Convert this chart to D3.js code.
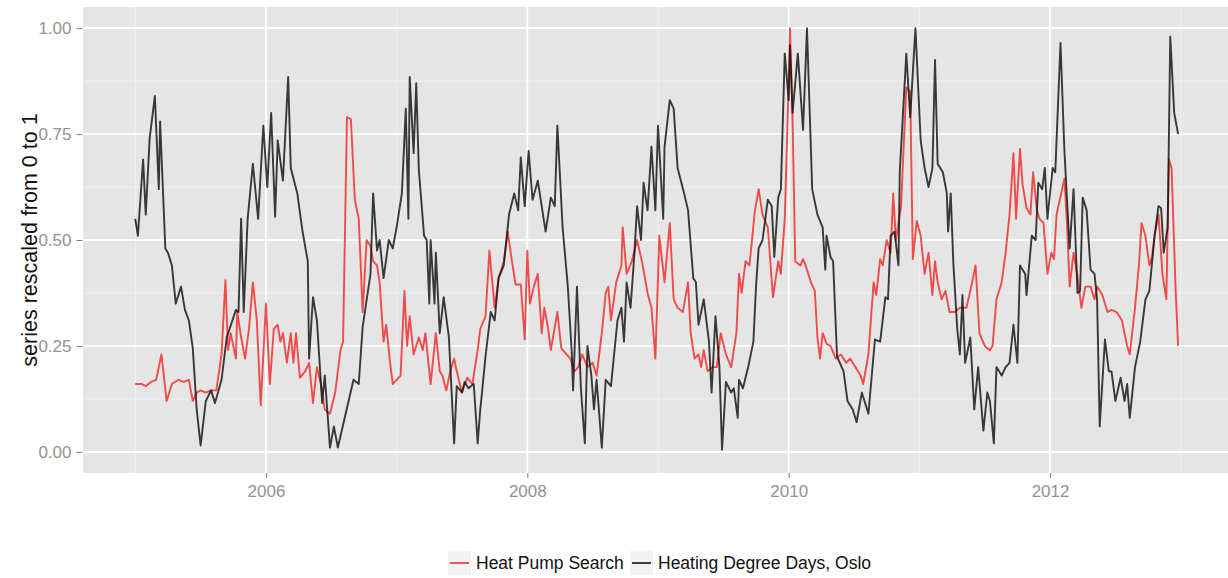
<!DOCTYPE html>
<meta charset="utf-8"/>
<html>
  <head>
    <script src="https://d3js.org/d3.v7.min.js"></script>
    <style>
      body { margin: 0; background: #fff; }
      text { font-family: 'Liberation Sans', Arial, sans-serif; }
    </style>
  </head>
  <body>
<script type="text/javascript">
// values, x as decimal year
var hddYear = [2005.00,2005.02,2005.06,2005.08,2005.11,2005.15,2005.18,2005.19,2005.23,2005.25,2005.28,2005.31,2005.35,2005.38,2005.41,2005.44,2005.47,2005.50,2005.54,2005.58,2005.61,2005.66,2005.70,2005.77,2005.79,2005.81,2005.83,2005.86,2005.90,2005.94,2005.98,
  2006.01,2006.04,2006.07,2006.09,2006.13,2006.17,2006.19,2006.24,2006.28,2006.32,2006.33,2006.36,2006.39,2006.43,2006.45,2006.49,2006.52,2006.55,2006.61,2006.67,2006.71,2006.74,2006.80,2006.82,2006.85,2006.87,2006.90,2006.94,2006.97,
  2007.00,2007.04,2007.07,2007.09,2007.10,2007.13,2007.15,2007.17,2007.21,2007.23,2007.25,2007.26,2007.29,2007.30,2007.33,2007.36,2007.40,2007.44,2007.46,2007.50,2007.52,2007.55,2007.59,2007.62,2007.64,2007.65,2007.68,2007.72,2007.75,2007.78,2007.82,2007.86,2007.90,2007.93,2007.95,2007.98,
  2008.01,2008.04,2008.08,2008.11,2008.14,2008.18,2008.21,2008.23,2008.27,2008.31,2008.34,2008.35,2008.38,2008.41,2008.44,2008.46,2008.49,2008.51,2008.53,2008.57,2008.60,2008.64,2008.69,2008.72,2008.74,2008.76,2008.79,2008.82,2008.84,2008.87,2008.89,2008.92,2008.95,2008.98,
  2009.00,2009.04,2009.05,2009.09,2009.12,2009.15,2009.20,2009.23,2009.27,2009.29,2009.31,2009.35,2009.39,2009.41,2009.44,2009.47,2009.49,2009.52,2009.56,2009.58,2009.61,2009.62,2009.65,2009.69,2009.73,2009.75,2009.77,2009.80,2009.84,2009.87,2009.89,2009.92,2009.94,2009.97,
  2010.00,2010.01,2010.03,2010.07,2010.11,2010.14,2010.18,2010.22,2010.26,2010.28,2010.29,2010.32,2010.34,2010.37,2010.42,2010.45,2010.49,2010.52,2010.56,2010.61,2010.66,2010.70,2010.74,2010.76,2010.78,2010.81,2010.84,2010.85,2010.90,2010.93,2010.97,
  2011.01,2011.04,2011.07,2011.10,2011.12,2011.14,2011.18,2011.21,2011.22,2011.24,2011.26,2011.29,2011.31,2011.33,2011.35,2011.39,2011.42,2011.45,2011.49,2011.52,2011.54,2011.57,2011.59,2011.63,2011.66,2011.69,2011.72,2011.75,2011.77,2011.81,2011.82,2011.86,2011.89,2011.91,2011.94,2011.96,2011.98,
  2012.02,2012.04,2012.08,2012.11,2012.15,2012.18,2012.21,2012.23,2012.25,2012.28,2012.31,2012.34,2012.36,2012.38,2012.42,2012.45,2012.47,2012.50,2012.54,2012.57,2012.59,2012.61,2012.65,2012.69,2012.73,2012.76,2012.80,2012.83,2012.85,2012.87,2012.90,2012.92,2012.95,2012.98];
var hddValue = [.55,.51,.69,.56,.74,.84,.62,.78,.48,.47,.44,.35,.39,.335,.31,.245,.10,.015,.12,.145,.115,.17,.27,.335,.33,.55,.33,.55,.68,.55,.77,
  .625,.80,.555,.735,.64,.885,.67,.61,.52,.45,.22,.365,.31,.115,.18,.01,.06,.01,.09,.17,.16,.295,.42,.61,.475,.50,.41,.50,.48,
  .53,.61,.81,.55,.885,.705,.87,.665,.51,.50,.35,.50,.35,.47,.28,.365,.27,.02,.155,.14,.165,.15,.16,.02,.10,.13,.225,.33,.31,.41,.44,.56,.61,.57,.695,.58,
  .71,.595,.64,.58,.52,.60,.58,.77,.53,.39,.235,.145,.39,.15,.02,.25,.18,.10,.17,.01,.17,.155,.31,.34,.26,.40,.34,.47,.58,.50,.635,.57,.72,.57,
  .77,.55,.72,.83,.81,.67,.61,.57,.41,.40,.30,.36,.26,.14,.32,.20,.005,.165,.14,.15,.08,.17,.15,.20,.26,.39,.48,.50,.595,.58,.46,.60,.62,.94,
  .83,.96,.80,.94,.76,1.00,.62,.56,.53,.43,.51,.46,.45,.225,.19,.12,.10,.07,.14,.09,.265,.26,.365,.36,.51,.52,.44,.66,.94,.79,1.00,
  .735,.67,.625,.67,.925,.68,.66,.61,.52,.61,.445,.29,.23,.37,.21,.27,.10,.20,.05,.14,.12,.02,.20,.18,.20,.21,.30,.21,.44,.42,.37,.51,.50,.635,.62,.67,.55,
  .67,.66,.965,.71,.48,.62,.375,.38,.60,.57,.43,.42,.36,.06,.265,.19,.19,.12,.175,.12,.16,.08,.20,.26,.36,.38,.51,.58,.575,.47,.53,.98,.80,.75];

var pumpYear = [2005.00,2005.05,2005.08,2005.12,2005.16,2005.20,2005.24,2005.28,2005.33,2005.37,2005.41,2005.44,2005.47,2005.50,2005.54,2005.58,2005.62,2005.66,2005.69,2005.71,2005.73,2005.77,2005.78,2005.81,2005.84,2005.87,2005.90,2005.93,2005.96,
  2006.00,2006.03,2006.06,2006.09,2006.11,2006.13,2006.16,2006.19,2006.21,2006.23,2006.26,2006.30,2006.33,2006.36,2006.39,2006.42,2006.45,2006.49,2006.53,2006.57,2006.59,2006.62,2006.65,2006.68,2006.71,2006.74,2006.77,2006.80,2006.82,2006.85,2006.87,2006.90,2006.92,2006.95,2006.97,
  2007.03,2007.06,2007.08,2007.10,2007.13,2007.17,2007.20,2007.22,2007.25,2007.26,2007.30,2007.33,2007.35,2007.38,2007.41,2007.44,2007.46,2007.50,2007.54,2007.58,2007.62,2007.64,2007.68,2007.71,2007.75,2007.78,2007.82,2007.85,2007.88,2007.91,2007.95,2007.98,
  2008.00,2008.02,2008.05,2008.08,2008.11,2008.13,2008.16,2008.18,2008.23,2008.26,2008.30,2008.33,2008.36,2008.39,2008.42,2008.46,2008.50,2008.53,2008.57,2008.60,2008.62,2008.64,2008.68,2008.72,2008.73,2008.76,2008.80,2008.84,2008.88,2008.92,2008.95,2008.98,
  2009.01,2009.05,2009.09,2009.12,2009.15,2009.19,2009.23,2009.25,2009.28,2009.31,2009.33,2009.35,2009.38,2009.42,2009.45,2009.48,2009.52,2009.56,2009.60,2009.62,2009.64,2009.67,2009.70,2009.74,2009.77,2009.80,2009.84,2009.88,2009.92,2009.94,2009.97,
  2010.00,2010.01,2010.03,2010.05,2010.09,2010.11,2010.13,2010.17,2010.20,2010.22,2010.24,2010.26,2010.29,2010.32,2010.36,2010.40,2010.44,2010.47,2010.51,2010.55,2010.57,2010.61,2010.65,2010.67,2010.70,2010.72,2010.75,2010.78,2010.80,2010.82,2010.86,2010.90,2010.93,2010.95,2010.98,
  2011.01,2011.04,2011.07,2011.10,2011.12,2011.14,2011.17,2011.20,2011.23,2011.27,2011.31,2011.36,2011.39,2011.43,2011.46,2011.50,2011.54,2011.56,2011.59,2011.63,2011.66,2011.69,2011.72,2011.74,2011.77,2011.79,2011.82,2011.85,2011.87,2011.90,2011.92,2011.95,2011.98,
  2012.01,2012.03,2012.05,2012.11,2012.13,2012.15,2012.18,2012.21,2012.24,2012.27,2012.31,2012.34,2012.36,2012.40,2012.44,2012.47,2012.51,2012.55,2012.59,2012.61,2012.65,2012.68,2012.70,2012.73,2012.76,2012.78,2012.80,2012.83,2012.86,2012.89,2012.91,2012.93,2012.96,2012.98];
var pumpValue = [.16,.16,.155,.165,.17,.23,.12,.16,.17,.165,.17,.12,.14,.145,.14,.145,.145,.23,.405,.24,.28,.22,.33,.27,.22,.29,.40,.31,.11,
  .35,.16,.29,.30,.26,.28,.21,.28,.21,.28,.175,.19,.21,.115,.20,.16,.10,.09,.14,.24,.26,.79,.785,.595,.55,.33,.50,.485,.45,.44,.40,.26,.30,.21,.16,
  .18,.38,.25,.32,.23,.27,.24,.28,.19,.16,.28,.19,.18,.145,.19,.22,.19,.14,.175,.16,.24,.29,.32,.475,.34,.41,.45,.52,.455,.395,.395,.265,
  .475,.35,.39,.42,.28,.34,.29,.24,.33,.245,.23,.22,.19,.20,.23,.20,.21,.18,.28,.375,.39,.31,.40,.44,.53,.42,.45,.50,.445,.375,.34,.22,
  .51,.40,.54,.36,.34,.33,.40,.28,.22,.23,.20,.24,.19,.20,.20,.28,.23,.20,.28,.42,.375,.45,.44,.565,.62,.56,.53,.365,.45,.42,.55,
  .87,1.00,.78,.45,.44,.455,.44,.40,.38,.27,.22,.28,.255,.25,.22,.23,.21,.22,.20,.18,.16,.23,.40,.37,.455,.44,.50,.47,.61,.50,.58,.86,.85,.455,.545,
  .51,.42,.47,.37,.45,.40,.36,.38,.33,.33,.34,.34,.38,.44,.28,.25,.24,.25,.36,.40,.47,.56,.705,.55,.715,.63,.575,.56,.66,.57,.55,.54,.42,
  .47,.455,.56,.645,.54,.39,.47,.415,.34,.39,.39,.36,.39,.37,.33,.335,.33,.31,.25,.23,.34,.44,.54,.51,.44,.46,.51,.56,.42,.36,.69,.67,.39,.25];

var yTicks = [0, 0.25, 0.5, 0.75, 1];
var yMinor = [0.125, 0.375, 0.625, 0.875];
var xTicks = [2006, 2008, 2010, 2012];
var xMinor = [2005, 2007, 2009, 2011, 2013];
var seriesNames = ['Heat Pump Search', 'Heating Degree Days, Oslo'];
var seriesColors = ['#f0302f', '#111111'];

var width = 1228, height = 578;
var panel = {left: 83, top: 7, right: 1233, bottom: 473};

var svg = d3.select('body').append('svg')
    .attr('width', width)
    .attr('height', height);

var x = d3.scaleLinear()
    .domain([2004.6, 2013.4])
    .range([panel.left, panel.right]);
var y = d3.scaleLinear()
    .domain([-0.05, 1.05])
    .range([panel.bottom, panel.top]);

svg.append('rect')
    .attr('x', panel.left)
    .attr('y', panel.top)
    .attr('width', panel.right - panel.left)
    .attr('height', panel.bottom - panel.top)
    .attr('fill', '#e5e5e5');

// minor grid
svg.append('g').selectAll('line').data(yMinor).enter().append('line')
    .attr('x1', panel.left).attr('x2', panel.right)
    .attr('y1', function(d) { return y(d); }).attr('y2', function(d) { return y(d); })
    .attr('stroke', '#f2f2f2').attr('stroke-width', 0.8);
svg.append('g').selectAll('line').data(xMinor).enter().append('line')
    .attr('y1', panel.top).attr('y2', panel.bottom)
    .attr('x1', function(d) { return x(d); }).attr('x2', function(d) { return x(d); })
    .attr('stroke', '#f2f2f2').attr('stroke-width', 0.8);
// major grid
svg.append('g').selectAll('line').data(yTicks).enter().append('line')
    .attr('x1', panel.left).attr('x2', panel.right)
    .attr('y1', function(d) { return y(d); }).attr('y2', function(d) { return y(d); })
    .attr('stroke', '#ffffff').attr('stroke-width', 1.8);
svg.append('g').selectAll('line').data(xTicks).enter().append('line')
    .attr('y1', panel.top).attr('y2', panel.bottom)
    .attr('x1', function(d) { return x(d); }).attr('x2', function(d) { return x(d); })
    .attr('stroke', '#ffffff').attr('stroke-width', 1.8);

var line = d3.line()
    .x(function(d) { return x(d[0]); })
    .y(function(d) { return y(d[1]); });

var pump = d3.zip(pumpYear, pumpValue);
var hdd = d3.zip(hddYear, hddValue);

svg.append('path')
    .attr('d', line(pump))
    .attr('fill', 'none')
    .attr('stroke', seriesColors[0])
    .attr('stroke-opacity', 0.85)
    .attr('stroke-width', 1.9)
    .attr('stroke-linejoin', 'round');
svg.append('path')
    .attr('d', line(hdd))
    .attr('fill', 'none')
    .attr('stroke', seriesColors[1])
    .attr('stroke-opacity', 0.82)
    .attr('stroke-width', 1.9)
    .attr('stroke-linejoin', 'round');

// axes
var yAxis = d3.axisLeft(y).tickValues(yTicks).tickSize(6).tickPadding(5)
    .tickFormat(d3.format('.2f'));
var gy = svg.append('g').attr('transform', 'translate(' + (panel.left - 0.5) + ',0)').call(yAxis);
var xAxis = d3.axisBottom(x).tickValues(xTicks).tickSize(5).tickPadding(7)
    .tickFormat(d3.format('d'));
var gx = svg.append('g').attr('transform', 'translate(0,' + panel.bottom + ')').call(xAxis);
[gx, gy].forEach(function(g) {
  g.select('.domain').remove();
  g.selectAll('.tick line').attr('stroke', '#7f7f7f');
  g.selectAll('.tick text').attr('fill', '#929292').attr('font-size', 17);
});

svg.append('text')
    .attr('transform', 'translate(29,' + (panel.top + panel.bottom) / 2 + ') rotate(-90)')
    .attr('text-anchor', 'middle')
    .attr('dy', '0.35em')
    .attr('font-size', 21.5)
    .attr('fill', '#111')
    .text('series rescaled from 0 to 1');

// legend
var legendY = 563;
var legend = svg.append('g');
var keyX = [448, 630];
seriesNames.forEach(function(name, i) {
  legend.append('rect')
      .attr('x', keyX[i]).attr('y', legendY - 12)
      .attr('width', 23).attr('height', 24)
      .attr('fill', '#f2f2f2');
  legend.append('line')
      .attr('x1', keyX[i] + 2).attr('x2', keyX[i] + 21)
      .attr('y1', legendY).attr('y2', legendY)
      .attr('stroke', seriesColors[i]).attr('stroke-opacity', 0.85).attr('stroke-width', 1.9);
  legend.append('text')
      .attr('x', keyX[i] + 28).attr('y', legendY)
      .attr('dy', '0.35em')
      .attr('font-size', 17.5)
      .attr('fill', '#111')
      .text(name);
});
</script>
  </body>
</html>
